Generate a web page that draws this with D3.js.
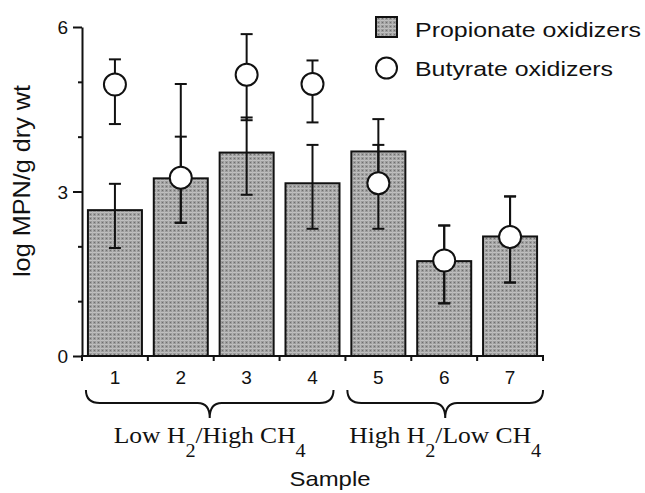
<!DOCTYPE html>
<html>
<head>
<meta charset="utf-8">
<script src="https://cdn.jsdelivr.net/npm/d3@7"></script>
<style>
  html, body { margin: 0; padding: 0; background: #fff; }
  svg { display: block; }
  text { fill: #111; }
</style>
</head>
<body>
<svg id="chart" width="645" height="493"></svg>
<script>
// ---- data ----
const samples = ["1", "2", "3", "4", "5", "6", "7"];
const propionate      = [2.66, 3.24, 3.71, 3.15, 3.73, 1.73, 2.18];
const propionateLower = [1.97, 2.43, 2.94, 2.32, 3.14, 0.96, 1.34];
const propionateUpper = [3.14, 4.96, 4.35, 3.85, 4.32, 2.38, 2.91];
const butyrate        = [4.95, 3.25, 5.13, 4.96, 3.15, 1.74, 2.17];
const butyrateLower   = [4.23, 2.43, 4.30, 4.26, 2.32, 0.96, 1.34];
const butyrateUpper   = [5.41, 4.00, 5.87, 5.39, 3.85, 2.38, 2.91];
const yTicks = [0, 1, 2, 3, 4, 5, 6];
const yTickLabels = ["0", "", "", "3", "", "", "6"];
const groups = [
  { from: 0, to: 3, parts: ["Low H", "2", "/High CH", "4"] },
  { from: 4, to: 6, parts: ["High H", "2", "/Low CH", "4"] }
];
const legendLabels = ["Propionate oxidizers", "Butyrate oxidizers"];
const yTitle = "log MPN/g dry wt";
const xTitle = "Sample";

// ---- layout ----
const svg = d3.select("#chart");
const sans = "'Liberation Sans', Arial, Helvetica, sans-serif";
const serif = "'Liberation Serif', 'Times New Roman', serif";

const x = d3.scaleBand().domain(samples).range([82, 543])
  .paddingInner(0.18).paddingOuter(0.09);
const y = d3.scaleLinear().domain([0, 6]).range([356, 27]);

// stipple pattern
const defs = svg.append("defs");
const pat = defs.append("pattern").attr("id", "stip")
  .attr("patternUnits", "userSpaceOnUse").attr("width", 4).attr("height", 4);
pat.append("rect").attr("width", 4).attr("height", 4).attr("fill", "#9c9c9c");
pat.append("rect").attr("x", 0).attr("y", 0).attr("width", 4).attr("height", 1).attr("fill", "#c0c0c0");
pat.append("rect").attr("x", 0).attr("y", 0).attr("width", 1).attr("height", 4).attr("fill", "#b6b6b6");
pat.append("rect").attr("x", 2).attr("y", 2).attr("width", 1).attr("height", 1).attr("fill", "#6e6e6e");

// bars
svg.append("g").selectAll("rect").data(samples).join("rect")
  .attr("x", d => x(d))
  .attr("y", (d, i) => y(propionate[i]))
  .attr("width", x.bandwidth())
  .attr("height", (d, i) => y(0) - y(propionate[i]))
  .attr("fill", "url(#stip)")
  .attr("stroke", "#111").attr("stroke-width", 2);

// error bars
function errorBars(lower, upper) {
  const g = svg.append("g").attr("stroke", "#111").attr("stroke-width", 2);
  samples.forEach((d, i) => {
    const cx = x(d) + x.bandwidth() / 2;
    g.append("line").attr("x1", cx).attr("x2", cx)
      .attr("y1", y(lower[i])).attr("y2", y(upper[i]));
    [lower[i], upper[i]].forEach(v => {
      g.append("line").attr("x1", cx - 6).attr("x2", cx + 6)
        .attr("y1", y(v)).attr("y2", y(v));
    });
  });
}
errorBars(propionateLower, propionateUpper);
errorBars(butyrateLower, butyrateUpper);

// circles
svg.append("g").selectAll("circle").data(samples).join("circle")
  .attr("cx", d => x(d) + x.bandwidth() / 2)
  .attr("cy", (d, i) => y(butyrate[i]))
  .attr("r", 11)
  .attr("fill", "#fff").attr("stroke", "#111").attr("stroke-width", 2);

// y axis
const yAxis = svg.append("g").attr("transform", "translate(82,0)")
  .call(d3.axisLeft(y).tickValues(yTicks)
    .tickFormat((d, i) => yTickLabels[i])
    .tickSize(9).tickSizeOuter(0).tickPadding(5));
yAxis.select(".domain").attr("stroke", "#111").attr("stroke-width", 2);
yAxis.selectAll(".tick line").attr("stroke", "#111").attr("stroke-width", 2)
  .attr("x2", (d, i) => yTickLabels[i] ? -9 : -4);
yAxis.selectAll(".tick text").attr("font-family", sans).attr("font-size", 19)
  .attr("fill", "#111").attr("dy", "0.36em");

// x axis
const xAxis = svg.append("g").attr("transform", "translate(0,356)")
  .call(d3.axisBottom(x).tickSize(0).tickSizeOuter(0).tickPadding(15));
xAxis.select(".domain").attr("stroke", "#111").attr("stroke-width", 2)
  .attr("d", `M81,0H544`);
xAxis.selectAll(".tick text").attr("font-family", sans).attr("font-size", 19)
  .attr("fill", "#111");
// boundary ticks
const bounds = d3.range(samples.length + 1).map(i => x.range()[0] + i * x.step());
xAxis.append("g").selectAll("line").data(bounds).join("line")
  .attr("x1", d => d).attr("x2", d => d).attr("y1", 0).attr("y2", 5)
  .attr("stroke", "#111").attr("stroke-width", 2);

// braces and group labels
const braceG = svg.append("g");
groups.forEach((gr, k) => {
  const x0 = x(samples[gr.from]) - (k === 0 ? 2 : 4);
  const x1 = x(samples[gr.to]) + x.bandwidth() + (k === 0 ? -6 : 6);
  const cx = (x0 + x1) / 2;
  const top = 390, mid = 403, tip = 418;
  const p = d3.path();
  p.moveTo(x0, top);
  p.quadraticCurveTo(x0, mid, x0 + 14, mid);
  p.lineTo(cx - 12, mid);
  p.quadraticCurveTo(cx, mid, cx, tip);
  p.quadraticCurveTo(cx, mid, cx + 12, mid);
  p.lineTo(x1 - 14, mid);
  p.quadraticCurveTo(x1, mid, x1, top);
  braceG.append("path").attr("d", p.toString())
    .attr("fill", "none").attr("stroke", "#111").attr("stroke-width", 2);

  const t = braceG.append("text").attr("x", cx).attr("y", 443)
    .attr("text-anchor", "middle")
    .attr("font-family", serif).attr("font-size", 24)
    .attr("textLength", 192).attr("lengthAdjust", "spacingAndGlyphs");
  t.append("tspan").text(gr.parts[0]);
  t.append("tspan").attr("dy", 14).attr("font-size", 19).text(gr.parts[1]);
  t.append("tspan").attr("dy", -14).text(gr.parts[2]);
  t.append("tspan").attr("dy", 14).attr("font-size", 19).text(gr.parts[3]);
});

// axis titles
svg.append("text").attr("x", 330).attr("y", 486)
  .attr("text-anchor", "middle").attr("font-family", sans).attr("font-size", 21)
  .attr("textLength", 81).attr("lengthAdjust", "spacingAndGlyphs")
  .text(xTitle);
svg.append("text").attr("transform", "translate(30,181) rotate(-90)")
  .attr("text-anchor", "middle").attr("font-family", sans).attr("font-size", 24)
  .attr("textLength", 192).attr("lengthAdjust", "spacingAndGlyphs")
  .text(yTitle);

// legend
const leg = svg.append("g");
leg.append("rect").attr("x", 376).attr("y", 17).attr("width", 21).attr("height", 20)
  .attr("fill", "url(#stip)").attr("stroke", "#111").attr("stroke-width", 2);
leg.append("circle").attr("cx", 386.5).attr("cy", 68).attr("r", 10.5)
  .attr("fill", "#fff").attr("stroke", "#111").attr("stroke-width", 2);
leg.append("text").attr("x", 415).attr("y", 37)
  .attr("font-family", sans).attr("font-size", 21)
  .attr("textLength", 226).attr("lengthAdjust", "spacingAndGlyphs")
  .text(legendLabels[0]);
leg.append("text").attr("x", 415).attr("y", 76)
  .attr("font-family", sans).attr("font-size", 21)
  .attr("textLength", 198).attr("lengthAdjust", "spacingAndGlyphs")
  .text(legendLabels[1]);
</script>
</body>
</html>
